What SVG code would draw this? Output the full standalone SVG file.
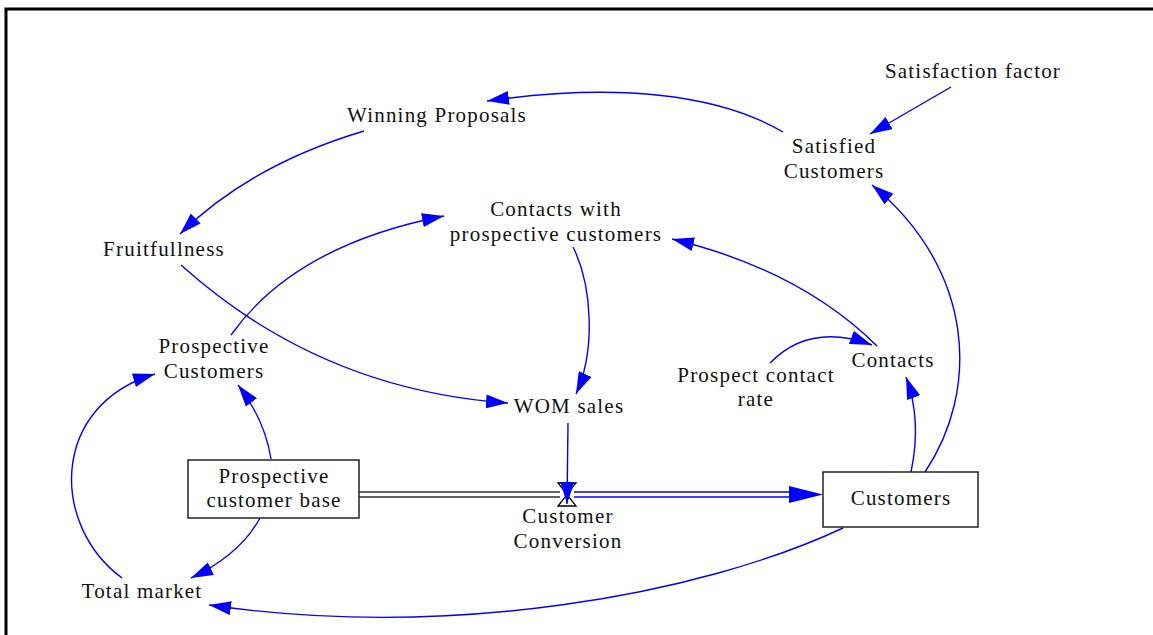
<svg xmlns="http://www.w3.org/2000/svg" width="1153" height="635" viewBox="0 0 1153 635">
<style>
  text { font-family: "Liberation Serif", "Times New Roman", serif; font-size: 21px; letter-spacing: 1.2px; fill: #111; text-anchor: middle; }
  .link { fill: none; stroke: #0000FF; stroke-width: 1.4; marker-end: url(#arr); }
  .box { fill: #fff; stroke: #222; stroke-width: 1.5; }
  .pipe { stroke: #333; stroke-width: 1.4; fill: none; }
  .bpipe { stroke: #0000FF; stroke-width: 1.4; fill: none; }
</style>
<defs>
  <marker id="arr" viewBox="0 0 22 14" refX="22" refY="7" markerWidth="22" markerHeight="14" markerUnits="userSpaceOnUse" orient="auto">
    <path d="M0,0 L22,7 L0,14 z" fill="#0000FF"/>
  </marker>
</defs>
<rect width="1153" height="635" fill="#fff"/>
<path d="M6,635 L6,9 L1153,9" fill="none" stroke="#000" stroke-width="3"/>

<g id="connectors">
  <path class="link" d="M783,132 C720,95 620,82 487,101"/>
  <path class="link" d="M951,87 L870,134"/>
  <path class="link" d="M364,131 Q250,165 180,234"/>
  <path class="link" d="M231,335 Q295,245 444,216"/>
  <path class="link" d="M181,265 Q320,390 508,403"/>
  <path class="link" d="M573,247 C592,285 596,350 576,394"/>
  <path class="link" d="M877,346 Q800,270 672,239"/>
  <path class="link" d="M770,363 Q810,322 872,345"/>
  <path class="link" d="M911,472 Q922,420 906,377"/>
  <path class="link" d="M925,472 C980,390 975,270 872,185"/>
  <path class="link" d="M271,459 Q265,420 238,385"/>
  <path class="link" d="M260,518 Q240,555 191,578"/>
  <path class="link" d="M122,578 C50,525 50,405 155,374"/>
  <path class="link" d="M843,528 C700,595 450,640 209,605"/>
  <g id="flow">
    <path class="pipe" d="M359,492 L560,492 M359,497 L560,497"/>
    <path class="bpipe" d="M574,492 L792,492 M574,497 L792,497"/>
    <polygon points="789,486 823,494.5 789,503" fill="#0000FF"/>
  </g>
  <g id="valve">
    <polygon points="558,483 576,483 567,494.5" fill="#fff" stroke="#000" stroke-width="1.3"/>
    <polygon points="558,506 576,506 567,494.5" fill="#fff" stroke="#000" stroke-width="1.3"/>
  </g>
  <path class="link" d="M568,423 L567,504"/>
</g>

<g id="winning-proposals"><text x="437" y="122">Winning Proposals</text></g>
<g id="satisfaction-factor"><text x="973" y="78">Satisfaction factor</text></g>
<g id="satisfied-customers"><text x="834" y="153"><tspan x="834">Satisfied</tspan><tspan x="834" y="178">Customers</tspan></text></g>
<g id="contacts-with-prospective"><text x="556" y="216"><tspan x="556">Contacts with</tspan><tspan x="556" y="241">prospective customers</tspan></text></g>
<g id="fruitfullness"><text x="164" y="256">Fruitfullness</text></g>
<g id="prospective-customers"><text x="214" y="353"><tspan x="214">Prospective</tspan><tspan x="214" y="378">Customers</tspan></text></g>
<g id="wom-sales"><text x="569" y="413">WOM sales</text></g>
<g id="contacts"><text x="893" y="367">Contacts</text></g>
<g id="prospect-contact-rate"><text x="756" y="382"><tspan x="756">Prospect contact</tspan><tspan x="756" y="406">rate</tspan></text></g>
<g id="prospective-customer-base">
  <rect class="box" x="188" y="460" width="171" height="58"/>
  <text x="274" y="483"><tspan x="274">Prospective</tspan><tspan x="274" y="507">customer base</tspan></text>
</g>
<g id="customers">
  <rect class="box" x="823" y="472" width="155" height="55"/>
  <text x="901" y="505">Customers</text>
</g>
<g id="customer-conversion"><text x="568" y="523"><tspan x="568">Customer</tspan><tspan x="568" y="548">Conversion</tspan></text></g>
<g id="total-market"><text x="142" y="598">Total market</text></g>
</svg>
